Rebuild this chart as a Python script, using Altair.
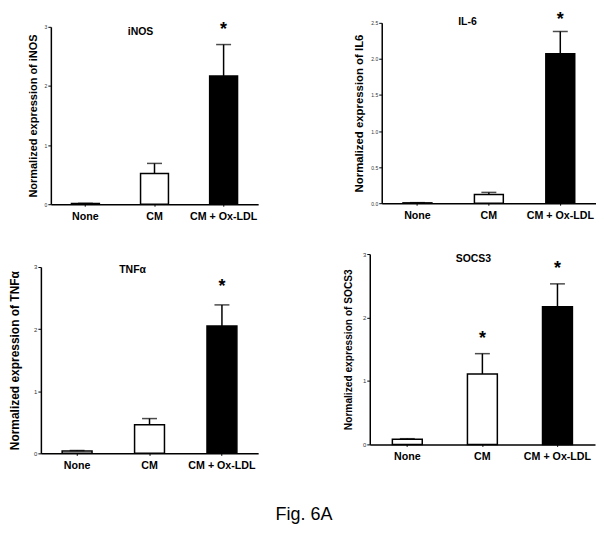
import altair as alt
import pandas as pd

categories = ["None", "CM", "CM + Ox-LDL"]
fills = ["white", "white", "black"]

inos_mean = [0.01, 0.52, 2.17]
inos_err = [0.015, 0.69, 2.70]
inos_star = ["", "", "*"]

il6_mean = [0.005, 0.12, 2.07]
il6_err = [0.008, 0.15, 2.38]
il6_star = ["", "", "*"]

tnf_mean = [0.04, 0.46, 2.05]
tnf_err = [0.045, 0.56, 2.39]
tnf_star = ["", "", "*"]

socs_mean = [0.08, 1.11, 2.17]
socs_err = [0.09, 1.43, 2.53]
socs_star = ["", "*", "*"]

FONT = "Liberation Sans, Arial, sans-serif"


def spacer(x, y):
    return alt.Chart(pd.DataFrame({"s": [0]})).mark_rule(
        color="white", strokeWidth=1
    ).encode(x=alt.value(x), x2=alt.value(x + 1), y=alt.value(y), y2=alt.value(y))


def panel(name, ylabel, mean, err, star, ymax, ticks, fmt, w, h, xrange, yrange,
          yoffset, barsize, tpos, ytsize, ytpad, lblsize, stardy, extra=None):
    df = pd.DataFrame({"cat": categories, "mean": mean, "err": err,
                       "fill": fills, "star": star})
    yscale = alt.Scale(domain=[0, ymax], nice=False, range=yrange)
    yax = alt.Axis(values=ticks, format=fmt, title=ylabel, titleFontSize=ytsize,
                   titlePadding=ytpad, labelFontSize=lblsize, offset=yoffset)
    xenc = alt.X("cat:N", sort=categories, title=None,
                 scale=alt.Scale(paddingInner=0, paddingOuter=0, range=xrange),
                 axis=alt.Axis(labelAngle=0))
    base = alt.Chart(df).encode(x=xenc)
    bars = base.mark_bar(size=barsize, stroke="black", strokeWidth=1.5).encode(
        y=alt.Y("mean:Q", scale=yscale, axis=yax),
        fill=alt.Fill("fill:N", scale=None),
    )
    rule = base.mark_rule(color="black", strokeWidth=1.5).encode(
        y=alt.Y("mean:Q", scale=yscale, axis=yax), y2="err:Q"
    )
    cap = base.mark_tick(color="black", size=15, thickness=1.5).encode(
        y=alt.Y("err:Q", scale=yscale, axis=yax)
    )
    stars = base.transform_filter("datum.star != ''").mark_text(
        fontSize=18, fontWeight="bold", baseline="alphabetic",
        dy=stardy, color="black", font=FONT).encode(
        y=alt.Y("err:Q", scale=yscale, axis=yax), text="star:N"
    )
    title = alt.Chart(pd.DataFrame({"t": [name]})).mark_text(
        fontSize=10.5, fontWeight="bold", color="black", font=FONT
    ).encode(x=alt.value(tpos[0]), y=alt.value(tpos[1]), text="t:N")
    layers = [rule, bars, cap, stars, title] + (extra or [])
    return alt.layer(*layers).properties(width=w, height=h)


p1 = panel("iNOS", "Normalized expression of iNOS", inos_mean, inos_err, inos_star,
           3, [0, 1, 2, 3], "d", 218, 182, [10, 218], [182, 4], -10, 28,
           (100, 9), 11, 6, 5, -10, [spacer(-32, -13)])
p2 = panel("IL-6", "Normalized expression of IL6", il6_mean, il6_err, il6_star,
           2.5, [0, 0.5, 1, 1.5, 2, 2.5], ".1f", 227, 181, [12, 227], [181, 0], -12, 29,
           (98, -1), 11.4, 6, 5, -7)

caption = alt.Chart(pd.DataFrame({"c": ["Fig. 6A"]})).mark_text(
    fontSize=18, color="black", font=FONT, baseline="alphabetic"
).encode(x=alt.value(264), y=alt.value(267), text="c:N")

p3 = panel("TNFα", "Normalized expression of TNFα", tnf_mean, tnf_err, tnf_star,
           3, [0, 1, 2, 3], "d", 218, 200, [0, 218], [200, 13], 0, 30,
           (92, 16), 12, 12, 6, -13, [caption])
p4 = panel("SOCS3", "Normalized expression of SOCS3", socs_mean, socs_err, socs_star,
           3, [0, 1, 2, 3], "d", 226, 191, [0, 226], [191, 0], 0, 30,
           (104, 5), 10.2, 9, 6, -10)

chart = alt.concat(
    p1, p2, p3, p4, columns=2, bounds="flush",
    spacing=alt.RowColnumber(row=50, column=112),
).properties(
    padding={"left": 0, "top": 0, "right": 0, "bottom": 0},
).configure_view(strokeWidth=0).configure_axis(
    domainColor="black", domainWidth=1.5, tickColor="black", tickWidth=1,
    grid=False, labelFont=FONT, titleFont=FONT, titleColor="black",
    titleFontWeight="bold",
).configure_axisX(
    labelFontSize=10.7, labelFontWeight="bold", labelColor="black", tickSize=2,
    labelPadding=5,
).configure_axisY(
    labelColor="#333333", tickSize=3, labelPadding=1,
)

chart.save("out.html", embed_options={"renderer": "svg", "actions": False})
